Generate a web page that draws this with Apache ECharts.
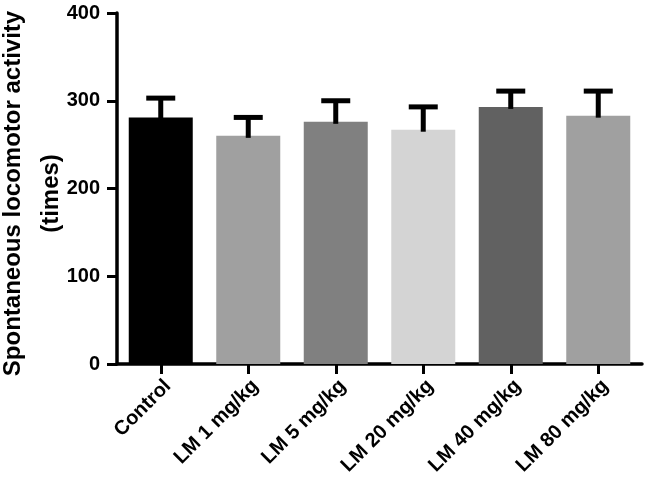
<!DOCTYPE html>
<html>
<head>
<meta charset="utf-8">
<script src="https://cdn.jsdelivr.net/npm/echarts@6/dist/echarts.min.js"></script>
<style>
html,body{margin:0;padding:0;background:#fff;}
#main{width:646px;height:483px;}
</style>
</head>
<body>
<div id="main"></div>
<script>
var categories = ['Control', 'LM 1 mg/kg', 'LM 5 mg/kg', 'LM 20 mg/kg', 'LM 40 mg/kg', 'LM 80 mg/kg'];
var means = [281, 260, 276, 267, 293, 283];
var sems = [22, 21, 24, 26, 18, 28];
var barColors = ['#000000', '#a0a0a0', '#808080', '#d4d4d4', '#616161', '#a0a0a0'];
var yTicks = [0, 100, 200, 300, 400];

var FONT = '"Liberation Sans", Arial, Helvetica, sans-serif';
var chart = echarts.init(document.getElementById('main'), null, {renderer: 'canvas'});

var errData = categories.map(function (c, i) { return [i, means[i], means[i] + sems[i]]; });

chart.setOption({
  animation: false,
  backgroundColor: '#ffffff',
  grid: {left: 117, right: 4, top: 13, bottom: 119, containLabel: false, outerBoundsMode: 'none'},
  xAxis: {
    type: 'category',
    data: categories,
    axisLine: {show: true, lineStyle: {color: '#000', width: 3.5}},
    axisTick: {show: true, alignWithLabel: true, length: 10, lineStyle: {color: '#000', width: 3}},
    axisLabel: {
      rotate: 45, interval: 0, margin: 12, verticalAlign: 'top',
      color: '#000', fontFamily: FONT, fontWeight: 'bold', fontSize: 20
    },
    splitLine: {show: false}
  },
  yAxis: {
    type: 'value',
    min: yTicks[0], max: yTicks[yTicks.length - 1], interval: 100,
    name: 'Spontaneous locomotor activity\n(times)',
    nameLocation: 'middle',
    nameRotate: 90,
    nameGap: 47,
    nameMoveOverlap: false,
    nameTextStyle: {color: '#000', fontFamily: FONT, fontWeight: 'bold', fontSize: 24, lineHeight: 38, align: 'center', padding: [0, 10, 0, 0]},
    axisLine: {show: true, lineStyle: {color: '#000', width: 3.5}},
    axisTick: {show: true, length: 10, lineStyle: {color: '#000', width: 3}},
    axisLabel: {margin: 17, color: '#000', fontFamily: FONT, fontWeight: 'bold', fontSize: 20},
    splitLine: {show: false}
  },
  series: [
    {
      type: 'bar',
      barWidth: 64,
      data: means.map(function (v, i) { return {value: v, itemStyle: {color: barColors[i]}}; }),
      z: 2
    },
    {
      type: 'custom',
      data: errData,
      z: 3,
      renderItem: function (params, api) {
        var i = api.value(0);
        var lo = api.coord([i, api.value(1)]);
        var hi = api.coord([i, api.value(2)]);
        var half = 14.5;
        var style = {stroke: '#000', lineWidth: 5, fill: null};
        return {
          type: 'group',
          children: [
            {type: 'line', shape: {x1: lo[0], y1: lo[1] + 2, x2: hi[0], y2: hi[1]}, style: style},
            {type: 'line', shape: {x1: hi[0] - half, y1: hi[1], x2: hi[0] + half, y2: hi[1]}, style: style}
          ]
        };
      }
    }
  ]
});
</script>
</body>
</html>
